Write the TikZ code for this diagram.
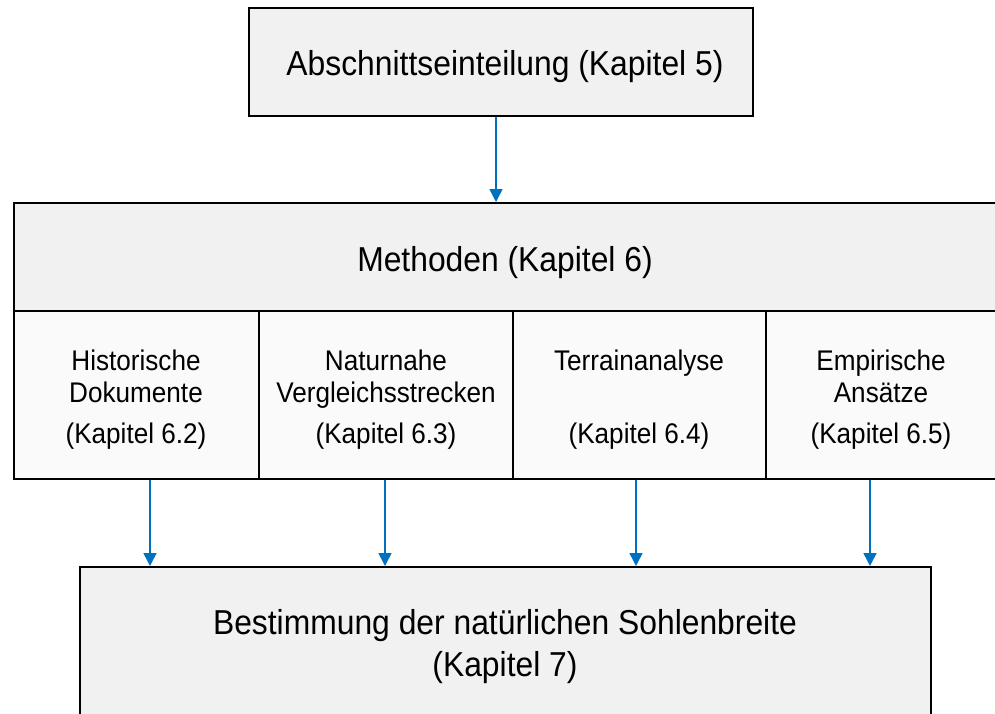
\documentclass[tikz,border=0pt]{standalone}
\usepackage{fontspec}
\setmainfont[FakeStretch=0.92]{Liberation Sans}
\usetikzlibrary{arrows.meta}
\definecolor{boxgray}{HTML}{F1F1F1}
\definecolor{subgray}{HTML}{FAFAFA}
\definecolor{arrowblue}{HTML}{0070C0}
\tikzset{
  mainbox/.style={draw=black, line width=2pt, fill=boxgray, rectangle, inner sep=0pt},
  subbox/.style={draw=black, line width=2pt, fill=subgray, rectangle, inner sep=0pt,
    minimum height=168},
  maintxt/.style={align=center, inner sep=0pt, font=\fontsize{34.6}{42}\selectfont},
  subtxt/.style={align=center, inner sep=0pt, font=\fontsize{28.4}{32.5}\selectfont},
  arr/.style={draw=arrowblue, line width=1.5pt, -{Triangle[length=13pt,width=13pt]}}
}
\begin{document}
\begin{tikzpicture}[x=1pt,y=-1pt]
\useasboundingbox (0,0) rectangle (995,713);
\clip (0,0) rectangle (995,713);
% top box
\node[mainbox, minimum width=504, minimum height=108] (top) at (501,62) {};
\node[maintxt] (toptxt) at (505,67) {Abschnittseinteilung (Kapitel 5)};
% Methoden
\node[mainbox, minimum width=996, minimum height=108] (meth) at (512,257) {};
\node[maintxt] (methtxt) at (505,263) {Methoden (Kapitel 6)};
% sub boxes
\node[subbox, minimum width=245] (s1) at (136.5,395) {};
\node[subbox, minimum width=254] (s2) at (386,395) {};
\node[subbox, minimum width=253] (s3) at (639.5,395) {};
\node[subbox, minimum width=244] (s4) at (888,395) {};
\node[subtxt] (t1) at (136,399.5) {Historische\\Dokumente\\[8.5pt](Kapitel 6.2)};
\node[subtxt] (t2) at (386,399.5) {Naturnahe\\Vergleichsstrecken\\[8.5pt](Kapitel 6.3)};
\node[subtxt] (t3) at (639,399.5) {Terrainanalyse\\[41pt](Kapitel 6.4)};
\node[subtxt] (t4) at (881,399.5) {Empirische\\Ansätze\\[8.5pt](Kapitel 6.5)};
% bottom box
\node[mainbox, minimum width=851, minimum height=170, anchor=north] (bot) at (505.5,566) {};
\node[maintxt] (bottxt) at (505,647) {Bestimmung der natürlichen Sohlenbreite\\(Kapitel 7)};
% arrows
\draw[arr] (top.south -| 496,0) -- (meth.north -| 496,0);
\draw[arr] (s1.south -| 150,0) -- (bot.north -| 150,0);
\draw[arr] (s2.south -| 385,0) -- (bot.north -| 385,0);
\draw[arr] (s3.south -| 636,0) -- (bot.north -| 636,0);
\draw[arr] (s4.south -| 870,0) -- (bot.north -| 870,0);
\end{tikzpicture}
\end{document}
